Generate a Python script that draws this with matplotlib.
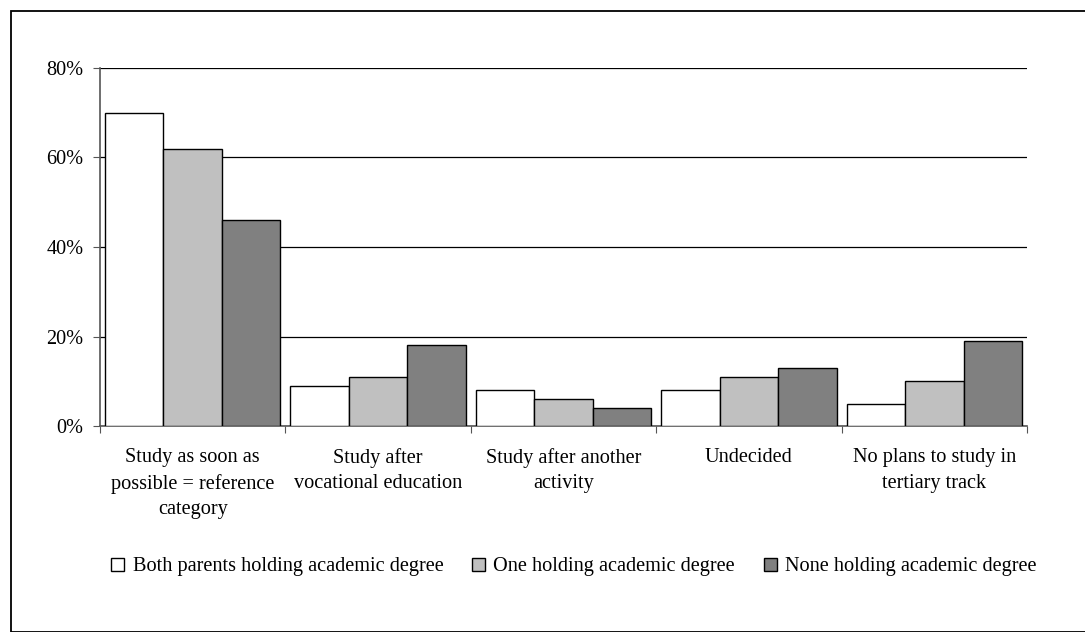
import matplotlib
matplotlib.use("Agg")
import matplotlib.pyplot as plt
import numpy as np
from matplotlib.patches import Rectangle

categories = ["Study as soon as\npossible = reference\ncategory",
              "Study after\nvocational education",
              "Study after another\nactivity",
              "Undecided",
              "No plans to study in\ntertiary track"]
series_names = ["Both parents holding academic degree",
                "One holding academic degree",
                "None holding academic degree"]
both_vals = [70, 9, 8, 8, 5]
one_vals = [62, 11, 6, 11, 10]
none_vals = [46, 18, 4, 13, 19]
yticks = [0, 20, 40, 60, 80]
ytick_labels = ["0%", "20%", "40%", "60%", "80%"]
colors = ["#FFFFFF", "#C0C0C0", "#808080"]

plt.rcParams['font.family'] = ['Liberation Serif', 'DejaVu Serif']
FS = 14.6

fig = plt.figure(figsize=(10.85, 6.32), dpi=100)
W, H = 1085, 632
fig.patches.append(Rectangle((11 / W, 0), 1.5, 1 - 11 / H, transform=fig.transFigure,
                             fill=False, edgecolor="black", linewidth=1.3, zorder=0))

ax = fig.add_axes([100 / W, 1 - 426 / H, (1027 - 100) / W, (426 - 68) / H])
x = np.arange(len(categories))
bw = 0.315
for i, (vals, c, name) in enumerate(zip([both_vals, one_vals, none_vals], colors, series_names)):
    ax.bar(x + (i - 1) * bw, vals, width=bw, color=c, edgecolor="black",
           linewidth=1.0, label=name, zorder=3)

ax.set_xlim(-0.5, len(categories) - 0.5)
ax.set_ylim(0, 80)
ax.set_yticks(yticks)
ax.set_yticklabels(ytick_labels, fontsize=FS)
ax.yaxis.grid(True, color="black", linewidth=0.9, zorder=0)
ax.set_axisbelow(True)
ax.set_xticks(np.arange(len(categories) + 1) - 0.5)
ax.set_xticklabels([])
ax.set_xticks(x, minor=True)
ax.set_xticklabels(categories, minor=True, fontsize=FS, linespacing=1.45)
ax.tick_params(axis="x", which="minor", length=0, pad=16)
ax.tick_params(axis="x", which="major", length=5, direction="out", color="#555555")
ax.tick_params(axis="y", length=5, direction="out", pad=7, color="#555555")
for s in ["top", "right"]:
    ax.spines[s].set_visible(False)
ax.spines["left"].set_color("#555555")
ax.spines["bottom"].set_color("#555555")
ax.spines["left"].set_linewidth(1.2)
ax.spines["bottom"].set_linewidth(1.2)

handles, labels = ax.get_legend_handles_labels()
fig.legend(handles, labels, loc="center", bbox_to_anchor=(574 / W, 1 - 567 / H), ncol=3,
           frameon=False, fontsize=FS, handlelength=0.64, handleheight=0.64,
           handletextpad=0.4, columnspacing=1.43)

fig.savefig("out.png", dpi=100)
